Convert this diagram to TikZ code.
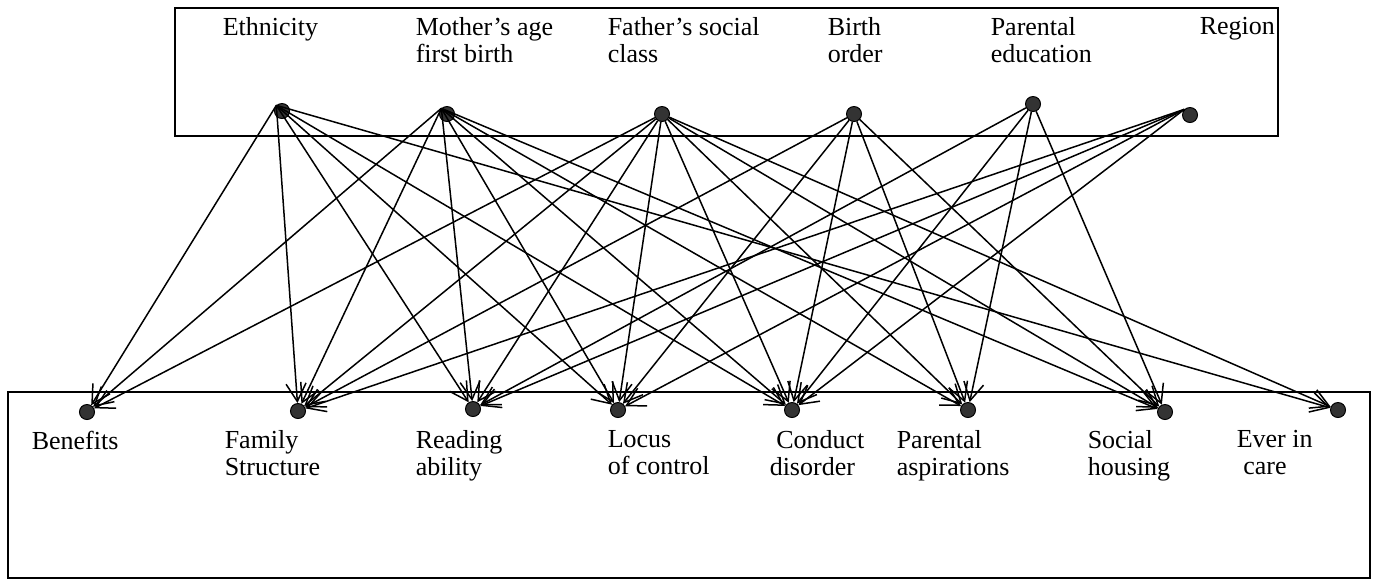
\documentclass[tikz,border=0pt]{standalone}
\usepackage{fontspec}
\setmainfont{Liberation Serif}
\usetikzlibrary{arrows.meta}

\begin{document}
\begin{tikzpicture}[x=0.5pt,y=-0.5pt,->,>={Straight Barb[length=9pt,width=10pt]},
                    line width=0.75pt]
  \tikzstyle{vdot}=[circle,draw=black,fill=black!80,line width=0.5pt,inner sep=0,minimum size=7.5pt]
  \tikzstyle{lbl}=[anchor=north west,inner sep=0,align=left,font=\fontsize{13}{13.5}\selectfont]
  \useasboundingbox (0,0) rectangle (1380,586);

  % frames
  \draw[-,line width=0.8pt] (175,8) rectangle (1278,136);
  \draw[-,line width=0.8pt] (8,392) rectangle (1370,578);

  % causes
  \node[lbl] (tEth) at (222,17) {Ethnicity};
  \node[lbl] (tMot) at (415,17) {Mother's age\\first birth};
  \node[lbl] (tFat) at (607,17) {Father's social\\class};
  \node[lbl] (tBir) at (827,17) {Birth\\order};
  \node[lbl] (tEdu) at (990,17) {Parental\\education};
  \node[lbl] (tReg) at (1199,17) {Region};

  \node[vdot] (E) at (282,111) {};
  \node[vdot] (M) at (447,114) {};
  \node[vdot] (F) at (662,114) {};
  \node[vdot] (B) at (854,114) {};
  \node[vdot] (P) at (1033,104) {};
  \node[vdot] (R) at (1190,115) {};

  % outcomes
  \node[vdot] (Ben)  at (87,412)   {};
  \node[vdot] (Fam)  at (298,411)  {};
  \node[vdot] (Read) at (473,409)  {};
  \node[vdot] (Loc)  at (618,410)  {};
  \node[vdot] (Cond) at (792,410)  {};
  \node[vdot] (Asp)  at (968,410)  {};
  \node[vdot] (Soc)  at (1165,412) {};
  \node[vdot] (Care) at (1338,410) {};

  \node[lbl] (tBen)  at (31,430)   {Benefits};
  \node[lbl] (tFam)  at (224,430)  {Family\\Structure};
  \node[lbl] (tRead) at (415,430)  {Reading\\ability};
  \node[lbl] (tLoc)  at (607,430)  {Locus\\of control};
  \node[lbl] (tCond) at (769,430)  {\ Conduct\\disorder};
  \node[lbl] (tAsp)  at (896,430)  {Parental\\aspirations};
  \node[lbl] (tSoc)  at (1087,430) {Social\\housing};
  \node[lbl] (tCare) at (1236,430) {Ever in\\\ care};

  \path (E.north west) edge (Ben);
  \path (E.north west) edge (Fam);
  \path (E.north west) edge (Read);
  \path (E.north west) edge (Loc);
  \path (E.north west) edge (Cond);
  \path (E.north west) edge (Care);
  \path (M.north west) edge (Ben);
  \path (M.north west) edge (Fam);
  \path (M.north west) edge (Read);
  \path (M.north west) edge (Loc);
  \path (M.north west) edge (Cond);
  \path (M.north west) edge (Asp);
  \path (M.north west) edge (Soc);
  \path (F) edge (Ben);
  \path (F) edge (Fam);
  \path (F) edge (Read);
  \path (F) edge (Loc);
  \path (F) edge (Cond);
  \path (F) edge (Asp);
  \path (F) edge (Soc);
  \path (F) edge (Care);
  \path (B) edge (Fam);
  \path (B) edge (Loc);
  \path (B) edge (Cond);
  \path (B) edge (Asp);
  \path (B) edge (Soc);
  \path (P) edge (Read);
  \path (P) edge (Cond);
  \path (P) edge (Asp);
  \path (P) edge (Soc);
  \path (R.north west) edge (Fam);
  \path (R.north west) edge (Read);
  \path (R.north west) edge (Loc);
  \path (R.north west) edge (Cond);
\end{tikzpicture}
\end{document}
